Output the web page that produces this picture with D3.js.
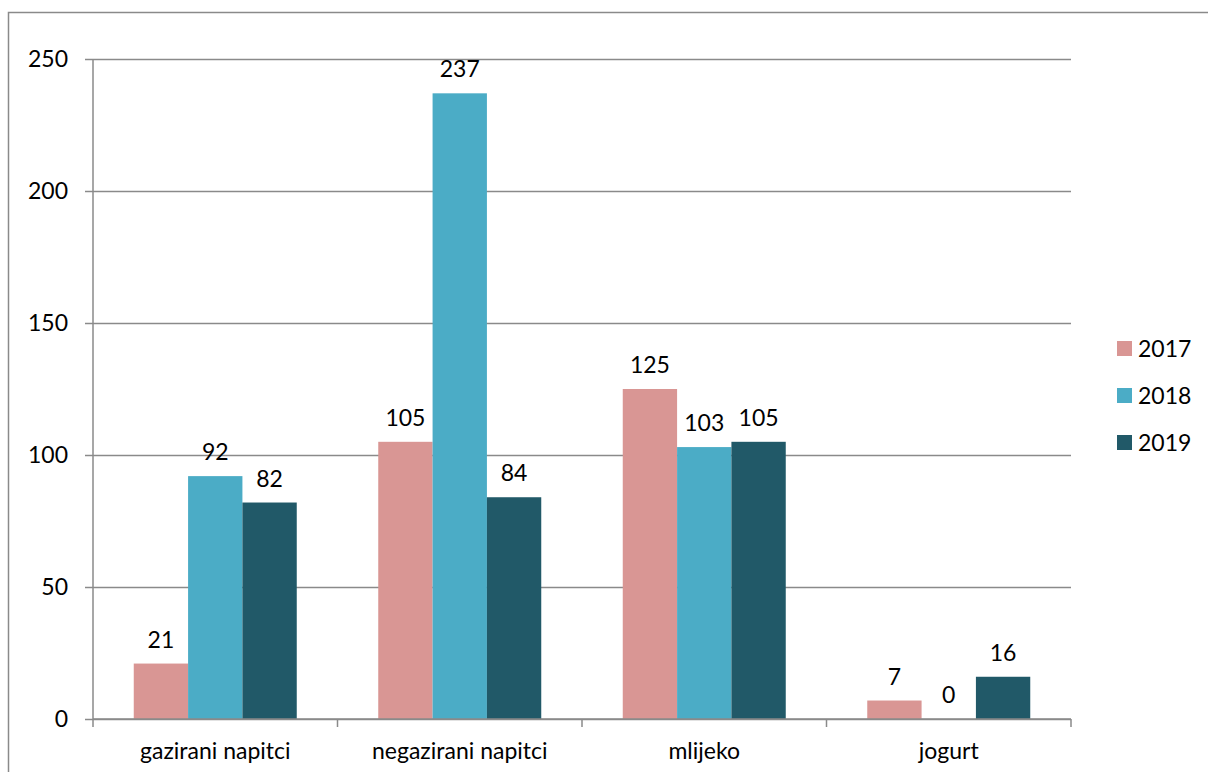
<!DOCTYPE html>
<html><head><meta charset="utf-8">
<script src="https://cdn.jsdelivr.net/npm/d3@7"></script>
<style>body{margin:0;background:#fff}svg{display:block}text{font-family:Lato,"Open Sans",sans-serif;fill:#000}</style>
</head><body>
<svg id="c" width="1208" height="772"></svg>
<script>
const categories = ["gazirani napitci","negazirani napitci","mlijeko","jogurt"];
const seriesNames = ["2017","2018","2019"];
const v2017 = [21,105,125,7];
const v2018 = [92,237,103,0];
const v2019 = [82,84,105,16];
const yTicks = [0,50,100,150,200,250];
const colors = ["#d99694","#4bacc6","#215968"];

(function(){
const FS = "23px";
const series = [v2017,v2018,v2019];
const svg = d3.select("#c");
svg.append("rect").attr("x",8.5).attr("y",12.5).attr("width",1300).attr("height",900)
  .attr("fill","none").attr("stroke","#8a8a8a").attr("stroke-width",1.5);

const pL=93, pR=1071, pT=59, pB=719;
const x0 = d3.scaleBand().domain(categories).range([pL,pR]).paddingInner(0).paddingOuter(0);
const x1 = d3.scaleBand().domain(seriesNames).range([0,x0.bandwidth()]).paddingOuter(0.75).paddingInner(0);
const y = d3.scaleLinear().domain([0,250]).range([pB,pT]);

const yAxis = d3.axisLeft(y).tickValues(yTicks).tickSize(-(pR-pL)).tickPadding(25);
const gy = svg.append("g").attr("transform",`translate(${pL},0)`).call(yAxis);
gy.select(".domain").remove();
gy.selectAll(".tick line").attr("stroke","#8a8a8a").attr("stroke-width",1.5).attr("x1",-8);
gy.selectAll(".tick text").style("font-size",FS).style("font-family","Lato,'Open Sans',sans-serif");

const g = svg.append("g");
categories.forEach((c,ci)=>{
  seriesNames.forEach((s,si)=>{
    const v = series[si][ci];
    g.append("rect").attr("x",x0(c)+x1(s)).attr("y",y(v)).attr("width",x1.bandwidth())
      .attr("height",y(0)-y(v)).attr("fill",colors[si]);
    g.append("text").attr("x",x0(c)+x1(s)+x1.bandwidth()/2).attr("y",y(v)-16)
      .attr("text-anchor","middle").style("font-size",FS).text(v);
  });
});

svg.append("line").attr("x1",pL).attr("x2",pL).attr("y1",pT).attr("y2",pB)
  .attr("stroke","#8a8a8a").attr("stroke-width",1.5);
const xAxis = d3.axisBottom(x0).tickSize(0).tickPadding(24);
const gx = svg.append("g").attr("transform",`translate(0,${pB})`).call(xAxis);
gx.select(".domain").attr("stroke","#8a8a8a").attr("stroke-width",1.5).attr("d",`M${pL},0H${pR}`);
gx.selectAll(".tick text").style("font-size",FS).style("font-family","Lato,'Open Sans',sans-serif");
const bounds = [...categories.map(c=>x0(c)), pR];
svg.selectAll(".xt").data(bounds).enter().append("line")
  .attr("x1",d=>d).attr("x2",d=>d).attr("y1",pB).attr("y2",pB+8)
  .attr("stroke","#8a8a8a").attr("stroke-width",1.5);

const lg = svg.append("g").attr("transform","translate(1117,341)");
seriesNames.forEach((s,i)=>{
  lg.append("rect").attr("x",0).attr("y",i*47).attr("width",15).attr("height",15).attr("fill",colors[i]);
  lg.append("text").attr("x",21).attr("y",i*47+16).style("font-size",FS).text(s);
});
})();
</script>
</body></html>
